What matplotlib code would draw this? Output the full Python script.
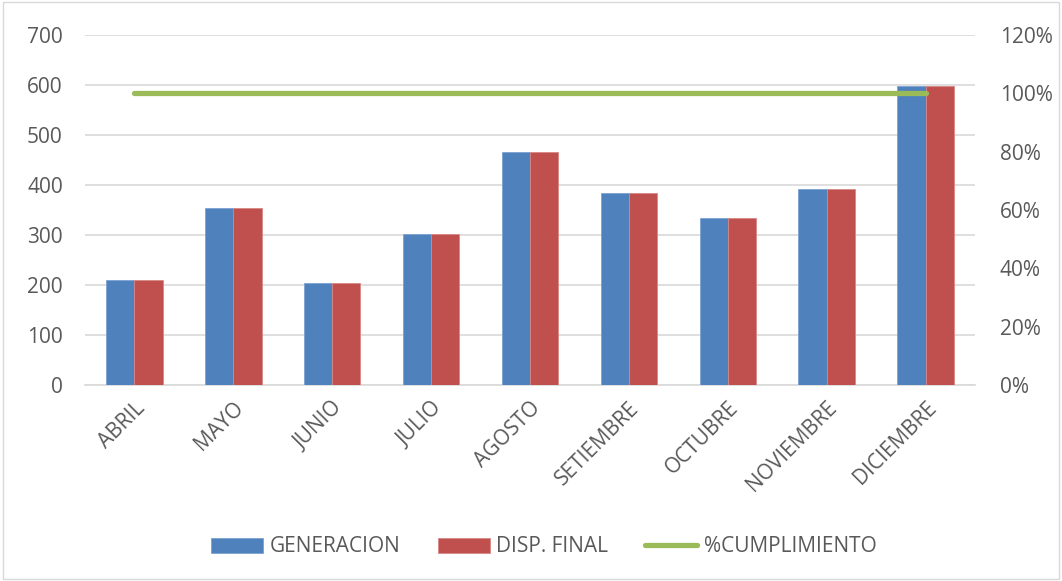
import matplotlib.pyplot as plt
import numpy as np
from matplotlib.patches import Rectangle

meses = ['ABRIL', 'MAYO', 'JUNIO', 'JULIO', 'AGOSTO', 'SETIEMBRE',
         'OCTUBRE', 'NOVIEMBRE', 'DICIEMBRE']
generacion = [211, 355, 205, 303, 466, 384, 334, 393, 598]
disp_final = [211, 355, 205, 303, 466, 384, 334, 393, 598]
cumplimiento = [100, 100, 100, 100, 100, 100, 100, 100, 100]

plt.rcParams['font.family'] = ['Open Sans', 'DejaVu Sans']
gris = '#595959'
fs = 15

fig = plt.figure(figsize=(10.62, 5.81), dpi=100)
ax = fig.add_axes([85 / 1062, 1 - 385 / 581, 890 / 1062, 350 / 581])
ax2 = ax.twinx()

x = np.arange(len(meses))
w = 0.285
ax.bar(x - w / 2, generacion, w, color='#4f81bd', edgecolor='#7da3d4', linewidth=0.6,
       label='GENERACION', zorder=3)
ax.bar(x + w / 2, disp_final, w, color='#c0504d', edgecolor='#d98886', linewidth=0.6,
       label='DISP. FINAL', zorder=3)
ax2.plot(x, cumplimiento, color='#9bbb59', linewidth=3.8, solid_capstyle='round',
         label='%CUMPLIMIENTO')

ax.set_xlim(-0.5, len(meses) - 0.5)
ax.set_ylim(0, 700)
ax.set_yticks(range(0, 701, 100))
ax2.set_ylim(0, 120)
ax2.set_yticks(range(0, 121, 20))
ax2.set_yticklabels([f'{v}%' for v in range(0, 121, 20)])

ax.grid(axis='y', color='#d9d9d9', linewidth=1.2, zorder=0)
ax.set_axisbelow(True)
for a in (ax, ax2):
    for s in a.spines.values():
        s.set_visible(False)
    a.tick_params(length=0, labelsize=fs, labelcolor=gris)
ax.spines['bottom'].set_visible(True)
ax.spines['bottom'].set_color('#d9d9d9')
ax.spines['bottom'].set_linewidth(1.2)
ax.tick_params(axis='y', pad=16)
ax2.tick_params(axis='y', pad=18)

ax.set_xticks(x)
ax.set_xticklabels(meses, rotation=45, ha='right', va='top', rotation_mode='anchor')
ax.tick_params(axis='x', pad=9)

h1, l1 = ax.get_legend_handles_labels()
h2, l2 = ax2.get_legend_handles_labels()
fig.legend(h1 + h2, l1 + l2, loc='center', bbox_to_anchor=(0.512, 1 - 547 / 581),
           ncol=3, frameon=False, fontsize=fs, labelcolor=gris,
           handlelength=2.5, handleheight=0.7, handletextpad=0.3, columnspacing=1.8)

fig.patches.append(Rectangle((0.003, 0.003), 0.994, 0.994, transform=fig.transFigure,
                             fill=False, edgecolor='#d9d9d9', linewidth=1))

fig.savefig('out.png', dpi=100)
